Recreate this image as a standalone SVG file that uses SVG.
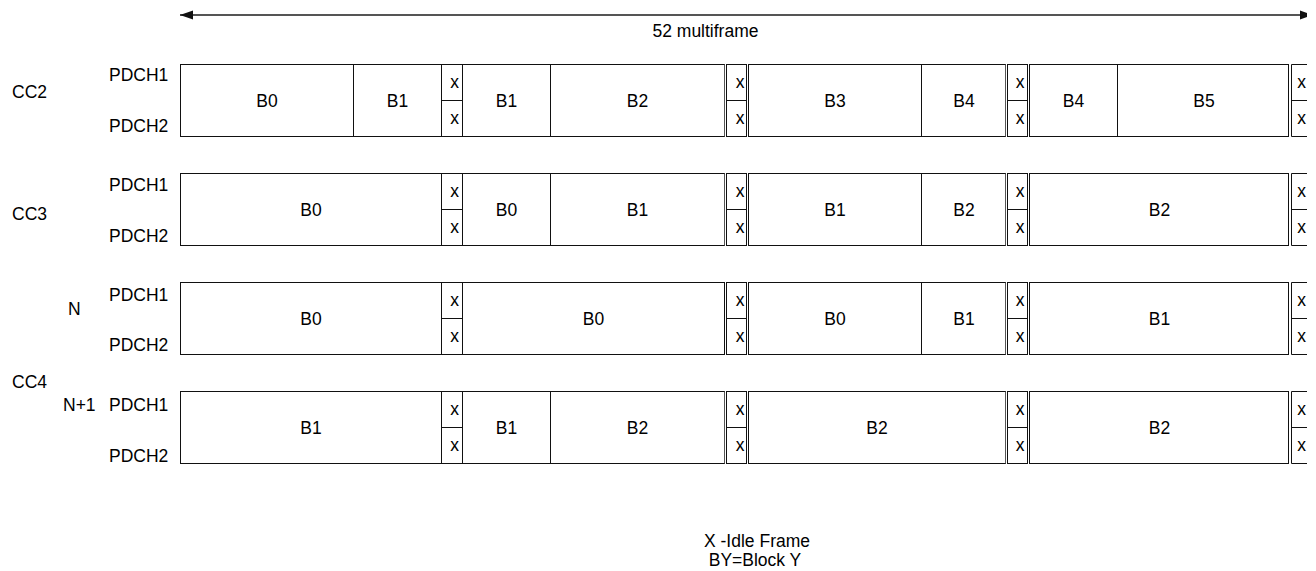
<svg xmlns="http://www.w3.org/2000/svg" width="1316" height="571" viewBox="0 0 1316 571">
<defs>
<style>
.t{font-family:"Liberation Sans",Arial,sans-serif;font-size:17.5px;fill:#000}
.c{text-anchor:middle}
.b{fill:#fff;stroke:#111;stroke-width:1}
.ln{stroke:#111;stroke-width:1;fill:none}
.dl{stroke:#555;stroke-width:1;fill:none}
.arr{stroke:#555;stroke-width:2;fill:none}
</style>
<marker id="ah" viewBox="0 0 13 10" refX="13" refY="5" markerWidth="13" markerHeight="10" markerUnits="userSpaceOnUse" orient="auto-start-reverse">
<path d="M0,0.5 L13,5 L0,9.5 Z" fill="#111"/>
</marker>
<clipPath id="clip"><rect x="0" y="0" width="1307" height="571"/></clipPath>
</defs>
<rect width="1316" height="571" fill="#fff"/>

<g id="connectors" clip-path="url(#clip)">
<line class="arr" x1="180" y1="15" x2="1313" y2="15" marker-start="url(#ah)" marker-end="url(#ah)"/>
</g>
<g id="span-label"><text class="t c" x="705.5" y="37">52 multiframe</text></g>

<g id="labels">
<text class="t" x="12" y="98">CC2</text>
<text class="t" x="109" y="81">PDCH1</text>
<text class="t" x="109" y="132">PDCH2</text>
<text class="t" x="12" y="220">CC3</text>
<text class="t" x="109" y="191">PDCH1</text>
<text class="t" x="109" y="242">PDCH2</text>
<text class="t" x="68" y="315">N</text>
<text class="t" x="109" y="301">PDCH1</text>
<text class="t" x="109" y="351">PDCH2</text>
<text class="t" x="12" y="388">CC4</text>
<text class="t" x="63" y="411">N+1</text>
<text class="t" x="109" y="411">PDCH1</text>
<text class="t" x="109" y="462">PDCH2</text>
</g>

<!-- Row 1: CC2 -->
<g id="row-cc2">
<g id="r1-b0"><rect class="b" x="180.5" y="64.5" width="173" height="72"/><text class="t c" x="267" y="106.5">B0</text></g>
<g id="r1-b1a"><rect class="b" x="353.5" y="64.5" width="88" height="72"/><text class="t c" x="397.5" y="106.5">B1</text></g>
<g id="r1-x1"><rect class="b" x="441.5" y="64.5" width="21" height="72"/><line class="ln" x1="441.5" y1="100.5" x2="462.5" y2="100.5"/><text class="t c" x="454.5" y="88">x</text><text class="t c" x="454.5" y="124">x</text></g>
<g id="r1-b1b"><rect class="b" x="462.5" y="64.5" width="88" height="72"/><text class="t c" x="506.5" y="106.5">B1</text></g>
<g id="r1-b2"><rect class="b" x="550.5" y="64.5" width="174" height="72"/><text class="t c" x="637.5" y="106.5">B2</text></g>
<g id="r1-x2"><line class="dl" x1="724.5" y1="64.5" x2="724.5" y2="136.5"/><rect class="b" x="726.5" y="64.5" width="20" height="72"/><line class="ln" x1="726.5" y1="100.5" x2="746.5" y2="100.5"/><line class="dl" x1="748.5" y1="64.5" x2="748.5" y2="136.5"/><text class="t c" x="740" y="88">x</text><text class="t c" x="740" y="124">x</text></g>
<g id="r1-b3"><rect class="b" x="748.5" y="64.5" width="173" height="72"/><text class="t c" x="835" y="106.5">B3</text></g>
<g id="r1-b4a"><rect class="b" x="921.5" y="64.5" width="84" height="72"/><text class="t c" x="964" y="106.5">B4</text></g>
<g id="r1-x3"><line class="dl" x1="1005.5" y1="64.5" x2="1005.5" y2="136.5"/><rect class="b" x="1007.5" y="64.5" width="20" height="72"/><line class="ln" x1="1007.5" y1="100.5" x2="1027.5" y2="100.5"/><line class="dl" x1="1029.5" y1="64.5" x2="1029.5" y2="136.5"/><text class="t c" x="1020" y="88">x</text><text class="t c" x="1020" y="124">x</text></g>
<g id="r1-b4b"><rect class="b" x="1029.5" y="64.5" width="88" height="72"/><text class="t c" x="1073.5" y="106.5">B4</text></g>
<g id="r1-b5"><rect class="b" x="1117.5" y="64.5" width="171" height="72"/><text class="t c" x="1204" y="106.5">B5</text></g>
<g id="r1-x4"><path class="ln" d="M1307,64.5 H1291.5 V136.5 H1307 M1291.5,100.5 H1307"/><text class="t c" x="1301.5" y="88">x</text><text class="t c" x="1301.5" y="124">x</text></g>
</g>

<!-- Row 2: CC3 -->
<g id="row-cc3">
<g id="r2-b0a"><rect class="b" x="180.5" y="173.5" width="261" height="72"/><text class="t c" x="311" y="215.5">B0</text></g>
<g id="r2-x1"><rect class="b" x="441.5" y="173.5" width="21" height="72"/><line class="ln" x1="441.5" y1="209.5" x2="462.5" y2="209.5"/><text class="t c" x="454.5" y="197">x</text><text class="t c" x="454.5" y="233">x</text></g>
<g id="r2-b0b"><rect class="b" x="462.5" y="173.5" width="88" height="72"/><text class="t c" x="506.5" y="215.5">B0</text></g>
<g id="r2-b1a"><rect class="b" x="550.5" y="173.5" width="174" height="72"/><text class="t c" x="637.5" y="215.5">B1</text></g>
<g id="r2-x2"><line class="dl" x1="724.5" y1="173.5" x2="724.5" y2="245.5"/><rect class="b" x="726.5" y="173.5" width="20" height="72"/><line class="ln" x1="726.5" y1="209.5" x2="746.5" y2="209.5"/><line class="dl" x1="748.5" y1="173.5" x2="748.5" y2="245.5"/><text class="t c" x="740" y="197">x</text><text class="t c" x="740" y="233">x</text></g>
<g id="r2-b1b"><rect class="b" x="748.5" y="173.5" width="173" height="72"/><text class="t c" x="835" y="215.5">B1</text></g>
<g id="r2-b2a"><rect class="b" x="921.5" y="173.5" width="84" height="72"/><text class="t c" x="964" y="215.5">B2</text></g>
<g id="r2-x3"><line class="dl" x1="1005.5" y1="173.5" x2="1005.5" y2="245.5"/><rect class="b" x="1007.5" y="173.5" width="20" height="72"/><line class="ln" x1="1007.5" y1="209.5" x2="1027.5" y2="209.5"/><line class="dl" x1="1029.5" y1="173.5" x2="1029.5" y2="245.5"/><text class="t c" x="1020" y="197">x</text><text class="t c" x="1020" y="233">x</text></g>
<g id="r2-b2b"><rect class="b" x="1029.5" y="173.5" width="259" height="72"/><text class="t c" x="1159.5" y="215.5">B2</text></g>
<g id="r2-x4"><path class="ln" d="M1307,173.5 H1291.5 V245.5 H1307 M1291.5,209.5 H1307"/><text class="t c" x="1301.5" y="197">x</text><text class="t c" x="1301.5" y="233">x</text></g>
</g>

<!-- Row 3: CC4 N -->
<g id="row-cc4-n">
<g id="r3-b0a"><rect class="b" x="180.5" y="282.5" width="261" height="72"/><text class="t c" x="311" y="324.5">B0</text></g>
<g id="r3-x1"><rect class="b" x="441.5" y="282.5" width="21" height="72"/><line class="ln" x1="441.5" y1="318.5" x2="462.5" y2="318.5"/><text class="t c" x="454.5" y="306">x</text><text class="t c" x="454.5" y="342">x</text></g>
<g id="r3-b0b"><rect class="b" x="462.5" y="282.5" width="262" height="72"/><text class="t c" x="593.5" y="324.5">B0</text></g>
<g id="r3-x2"><rect class="b" x="726.5" y="282.5" width="20" height="72"/><line class="ln" x1="726.5" y1="318.5" x2="746.5" y2="318.5"/><line class="dl" x1="748.5" y1="282.5" x2="748.5" y2="354.5"/><text class="t c" x="740" y="306">x</text><text class="t c" x="740" y="342">x</text></g>
<g id="r3-b0c"><rect class="b" x="748.5" y="282.5" width="173" height="72"/><text class="t c" x="835" y="324.5">B0</text></g>
<g id="r3-b1a"><rect class="b" x="921.5" y="282.5" width="84" height="72"/><text class="t c" x="964" y="324.5">B1</text></g>
<g id="r3-x3"><line class="dl" x1="1005.5" y1="282.5" x2="1005.5" y2="354.5"/><rect class="b" x="1007.5" y="282.5" width="20" height="72"/><line class="ln" x1="1007.5" y1="318.5" x2="1027.5" y2="318.5"/><line class="dl" x1="1029.5" y1="282.5" x2="1029.5" y2="354.5"/><text class="t c" x="1020" y="306">x</text><text class="t c" x="1020" y="342">x</text></g>
<g id="r3-b1b"><rect class="b" x="1029.5" y="282.5" width="259" height="72"/><text class="t c" x="1159.5" y="324.5">B1</text></g>
<g id="r3-x4"><path class="ln" d="M1307,282.5 H1291.5 V354.5 H1307 M1291.5,318.5 H1307"/><text class="t c" x="1301.5" y="306">x</text><text class="t c" x="1301.5" y="342">x</text></g>
</g>

<!-- Row 4: CC4 N+1 -->
<g id="row-cc4-n1">
<g id="r4-b1a"><rect class="b" x="180.5" y="391.5" width="261" height="72"/><text class="t c" x="311" y="433.5">B1</text></g>
<g id="r4-x1"><rect class="b" x="441.5" y="391.5" width="21" height="72"/><line class="ln" x1="441.5" y1="427.5" x2="462.5" y2="427.5"/><text class="t c" x="454.5" y="415">x</text><text class="t c" x="454.5" y="451">x</text></g>
<g id="r4-b1b"><rect class="b" x="462.5" y="391.5" width="88" height="72"/><text class="t c" x="506.5" y="433.5">B1</text></g>
<g id="r4-b2a"><rect class="b" x="550.5" y="391.5" width="174" height="72"/><text class="t c" x="637.5" y="433.5">B2</text></g>
<g id="r4-x2"><line class="dl" x1="724.5" y1="391.5" x2="724.5" y2="463.5"/><rect class="b" x="726.5" y="391.5" width="20" height="72"/><line class="ln" x1="726.5" y1="427.5" x2="746.5" y2="427.5"/><line class="dl" x1="748.5" y1="391.5" x2="748.5" y2="463.5"/><text class="t c" x="740" y="415">x</text><text class="t c" x="740" y="451">x</text></g>
<g id="r4-b2b"><rect class="b" x="748.5" y="391.5" width="257" height="72"/><text class="t c" x="877" y="433.5">B2</text></g>
<g id="r4-x3"><line class="dl" x1="1005.5" y1="391.5" x2="1005.5" y2="463.5"/><rect class="b" x="1007.5" y="391.5" width="20" height="72"/><line class="ln" x1="1007.5" y1="427.5" x2="1027.5" y2="427.5"/><line class="dl" x1="1029.5" y1="391.5" x2="1029.5" y2="463.5"/><text class="t c" x="1020" y="415">x</text><text class="t c" x="1020" y="451">x</text></g>
<g id="r4-b2c"><rect class="b" x="1029.5" y="391.5" width="259" height="72"/><text class="t c" x="1159.5" y="433.5">B2</text></g>
<g id="r4-x4"><path class="ln" d="M1307,391.5 H1291.5 V463.5 H1307 M1291.5,427.5 H1307"/><text class="t c" x="1301.5" y="415">x</text><text class="t c" x="1301.5" y="451">x</text></g>
</g>

<g id="legend">
<text class="t c" x="757" y="547">X -Idle Frame</text>
<text class="t c" x="755" y="566">BY=Block Y</text>
</g>
</svg>
